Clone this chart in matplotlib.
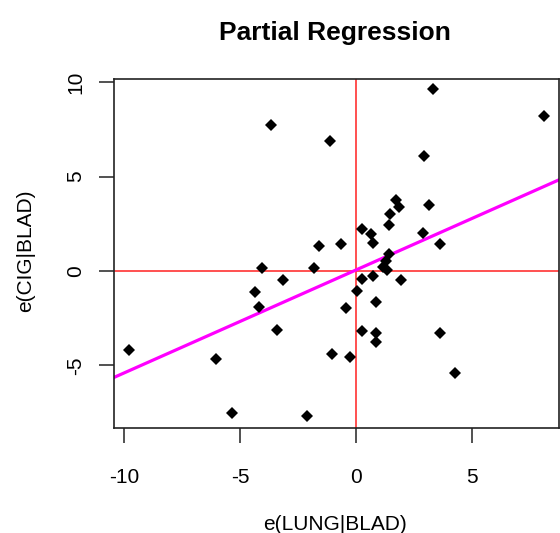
import matplotlib
matplotlib.use("Agg")
import matplotlib.pyplot as plt
import numpy as np

# residuals of LUNG and CIG after regressing each on BLAD
e_lung = [-9.78, -6.03, -5.33, -3.65, -4.03, -4.34, -4.17, -3.13, -3.42, -1.81,
          -1.58, -2.11, -1.11, -1.03, -0.63, -0.25, -0.43, 0.04, 0.26, 0.26,
          0.26, 0.67, 0.73, 0.73, 0.88, 0.88, 0.88, 1.19, 1.28, 1.45,
          1.36, 1.41, 1.48, 1.71, 1.84, 1.94, 2.89, 2.96, 3.17, 3.34,
          3.63, 3.63, 4.27, 8.10]
e_cig = [-4.20, -4.64, -7.54, 7.72, 0.14, -1.13, -1.93, -0.49, -3.12, 0.14,
         1.33, -7.70, 6.90, -4.37, 1.43, -4.57, -1.95, -1.05, -0.42, 2.21,
         -3.19, 1.96, 1.47, -0.25, -1.66, -3.28, -3.75, 0.23, 0.55, 0.90,
         0.05, 2.41, 3.03, 3.77, 3.41, -0.49, 2.03, 6.11, 3.50, 9.61,
         1.43, -3.28, -5.38, 8.18]

# fitted partial regression line
slope = 0.545
intercept = 0.05

x_ticks = [-10, -5, 0, 5]
y_ticks = [-5, 0, 5, 10]

plt.rcParams["font.family"] = ["Liberation Sans", "DejaVu Sans"]

fig = plt.figure(figsize=(5.6, 5.33), dpi=100)
ax = fig.add_axes([113.5 / 560, 1 - 428 / 533, (559 - 113.5) / 560, (428 - 79) / 533])

ax.set_xlim(-10.45, 8.76)
ax.set_ylim(-8.31, 10.16)

ax.axvline(0, color="#ff2020", linewidth=1.1, zorder=1)
ax.axhline(0, color="#ff2020", linewidth=1.1, zorder=1)

xs = np.array(ax.get_xlim())
ax.plot(xs, intercept + slope * xs, color="#ff00ff", linewidth=2.3, zorder=2)

ax.plot(e_lung, e_cig, linestyle="none", marker="D", markersize=6,
        markerfacecolor="black", markeredgewidth=0, zorder=3)

ax.set_xticks(x_ticks)
ax.set_yticks(y_ticks)
ax.set_xticklabels([str(t) for t in x_ticks])
ax.set_yticklabels([str(t) for t in y_ticks])
ax.tick_params(axis="both", length=10.5, width=1.1, color="#222222",
               labelsize=15)
ax.tick_params(axis="x", pad=18)
ax.tick_params(axis="y", pad=10)
for lab in ax.get_yticklabels():
    lab.set_rotation(90)
    lab.set_va("center")
    lab.set_ha("right")

for sp in ax.spines.values():
    sp.set_linewidth(1.2)
    sp.set_color("#222222")

fig.text(335 / 560, 1 - 33 / 533, "Partial Regression", ha="center",
         va="center", fontsize=19, fontweight="bold")
fig.text(335 / 560, 1 - 524 / 533, "e(LUNG|BLAD)", ha="center",
         va="center", fontsize=15)
fig.text(26 / 560, 1 - 251 / 533, "e(CIG|BLAD)", ha="center",
         va="center", rotation=90, fontsize=15)

fig.savefig("out.png", dpi=100)
